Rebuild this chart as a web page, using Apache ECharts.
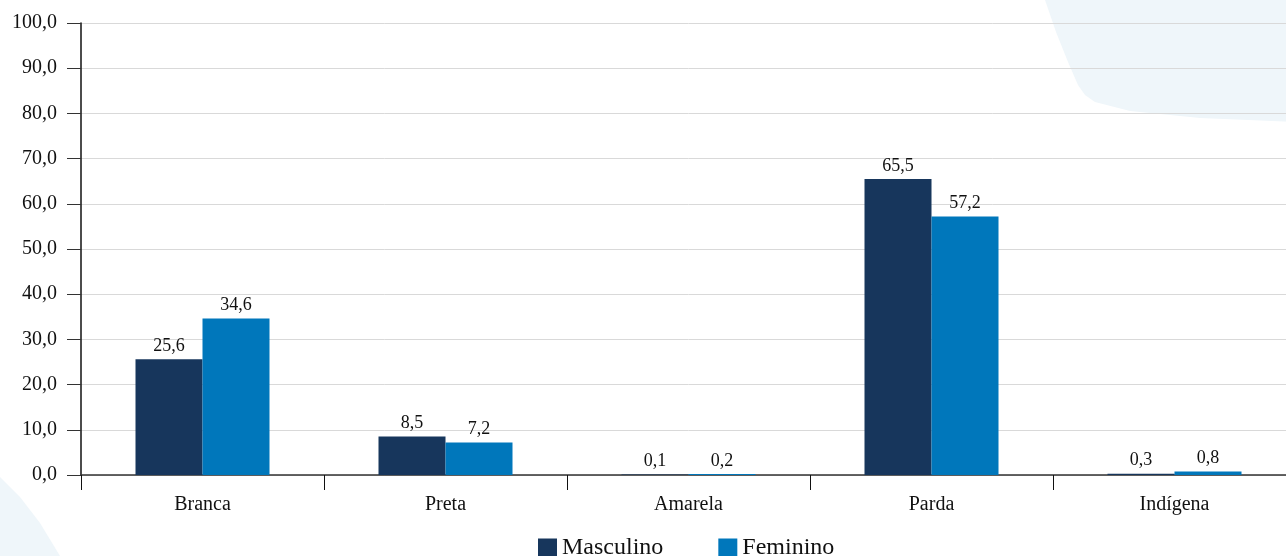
<!DOCTYPE html>
<html>
<head>
<meta charset="utf-8">
<script src="https://cdn.jsdelivr.net/npm/echarts@6/dist/echarts.min.js"></script>
<style>
  html, body { margin: 0; padding: 0; background: #fff; overflow: hidden; }
  /* plot runs slightly past the right edge of the window, as in the source */
  #chart { width: 1296px; height: 556px; }
</style>
</head>
<body>
<div id="chart"></div>
<script>
  var categories = ['Branca', 'Preta', 'Amarela', 'Parda', 'Indígena'];
  var masculino = [25.6, 8.5, 0.1, 65.5, 0.3];
  var feminino = [34.6, 7.2, 0.2, 57.2, 0.8];
  var seriesNames = ['Masculino', 'Feminino'];

  var myChart = echarts.init(document.getElementById('chart'));
  var font = '"Liberation Serif", "Times New Roman", serif';

  function fmt(v) {
    return Number(v).toFixed(1).replace('.', ',');
  }

  var option = {
    backgroundColor: '#fff',
    textStyle: { fontFamily: font },
    // light decorative shapes in the corners
    graphic: [
      {
        type: 'polygon',
        z: -10,
        silent: true,
        shape: {
          points: [[1045, 0], [1296, 0], [1296, 122], [1200, 118], [1130, 111],
                   [1095, 102], [1085, 95], [1078, 85], [1068, 62], [1056, 32]]
        },
        style: { fill: '#eff6fa' }
      },
      {
        type: 'polygon',
        z: -10,
        silent: true,
        shape: {
          points: [[0, 477], [20, 497], [40, 523], [60, 556], [0, 556]]
        },
        style: { fill: '#eff6fa' }
      }
    ],
    legend: {
      top: 531,
      left: 533,
      itemWidth: 19,
      itemHeight: 19,
      itemGap: 55,
      icon: 'rect',
      textStyle: { fontFamily: font, fontSize: 24, color: '#111' },
      data: seriesNames
    },
    grid: {
      left: 81,
      right: 0,
      top: 23,
      bottom: 81
    },
    xAxis: {
      type: 'category',
      data: categories,
      axisLine: { lineStyle: { color: '#333', width: 1.5 } },
      axisTick: { show: true, length: 15, lineStyle: { color: '#111' } },
      axisLabel: { fontFamily: font, fontSize: 20, color: '#111', margin: 20 }
    },
    yAxis: {
      type: 'value',
      min: 0,
      max: 100,
      interval: 10,
      axisLine: { show: true, lineStyle: { color: '#111', width: 1.5 } },
      axisTick: { show: true, length: 14, lineStyle: { color: '#333' } },
      splitLine: { lineStyle: { color: '#d9d9d9', width: 1 } },
      axisLabel: {
        fontFamily: font, fontSize: 20, color: '#111', margin: 24,
        formatter: function (v) { return fmt(v); }
      }
    },
    series: [
      {
        name: seriesNames[0],
        type: 'bar',
        barWidth: 67,
        barGap: '0%',
        itemStyle: { color: '#17365c' },
        label: {
          show: true, position: 'top', distance: 4,
          fontFamily: font, fontSize: 18, color: '#111',
          formatter: function (p) { return fmt(p.value); }
        },
        data: masculino
      },
      {
        name: seriesNames[1],
        type: 'bar',
        barWidth: 67,
        barGap: '0%',
        itemStyle: { color: '#0077bb' },
        label: {
          show: true, position: 'top', distance: 4,
          fontFamily: font, fontSize: 18, color: '#111',
          formatter: function (p) { return fmt(p.value); }
        },
        data: feminino
      }
    ]
  };

  option && myChart.setOption(option);
</script>
</body>
</html>
